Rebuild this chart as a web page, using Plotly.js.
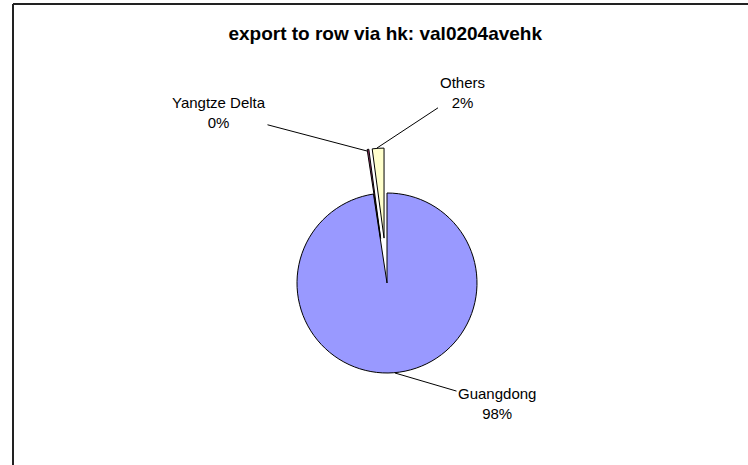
<!DOCTYPE html>
<html>
<head>
<meta charset="utf-8">
<script src="https://cdn.plot.ly/plotly-3.0.1.min.js"></script>
<style>
  html, body { margin: 0; padding: 0; background: #ffffff; }
  #chart { width: 748px; height: 465px; }
</style>
</head>
<body>
<div id="chart"></div>
<script>
// Data
const chartTitle = "export to row via hk: val0204avehk";
const regions = ["Guangdong", "Yangtze Delta", "Others"];
const shares = [97.6, 0.3, 2.1];
const sliceColors = ["#9999FF", "#993366", "#FFFFCC"];
const slicePull = [0, 0.5, 0.5];

const W = 748, H = 465;
const px = (x) => x / W;
const py = (y) => 1 - y / H;

const total = shares.reduce((a, b) => a + b, 0);
const pctText = shares.map(v => Math.round(v / total * 100) + "%");

// label anchor points (on slices) and text offsets
const labelTips = [[395, 373], [367, 151], [377, 148]];
const labelCenters = [[497, 403], [219, 112], [462, 92]];

const annotations = regions.map((r, i) => ({
  x: px(labelTips[i][0]), y: py(labelTips[i][1]),
  xref: "paper", yref: "paper",
  ax: labelCenters[i][0] - labelTips[i][0],
  ay: labelCenters[i][1] - labelTips[i][1],
  axref: "pixel", ayref: "pixel",
  text: r + "<br>" + pctText[i],
  showarrow: true, arrowhead: 0, arrowwidth: 1, arrowcolor: "#000000",
  standoff: 0,
  font: { family: "Liberation Sans, Arial, sans-serif", size: 15, color: "#000000" },
  align: "center"
}));

const trace = {
  type: "pie",
  labels: regions,
  values: shares,
  sort: false,
  direction: "clockwise",
  rotation: 0,
  pull: slicePull,
  textinfo: "none",
  hoverinfo: "label+percent",
  marker: { colors: sliceColors, line: { color: "#000000", width: 1 } },
  domain: { x: [px(252), px(522)], y: [py(418), py(148)] },
  showlegend: false
};

const layout = {
  width: W, height: H,
  margin: { l: 0, r: 0, t: 0, b: 0 },
  paper_bgcolor: "#ffffff",
  plot_bgcolor: "#ffffff",
  showlegend: false,
  title: {
    text: "<b>" + chartTitle + "</b>",
    font: { family: "Liberation Sans, Arial, sans-serif", size: 19, color: "#000000" },
    x: 0.515, xanchor: "center",
    y: py(33), yanchor: "middle", yref: "paper"
  },
  annotations: annotations,
  shapes: [
    { type: "line", xref: "paper", yref: "paper", x0: px(13), x1: px(760), y0: py(4), y1: py(4),
      line: { color: "#222222", width: 2 } },
    { type: "line", xref: "paper", yref: "paper", x0: px(13), x1: px(13), y0: py(4), y1: py(480),
      line: { color: "#222222", width: 2 } }
  ]
};

Plotly.newPlot("chart", [trace], layout, { displayModeBar: false, staticPlot: true });
</script>
</body>
</html>
